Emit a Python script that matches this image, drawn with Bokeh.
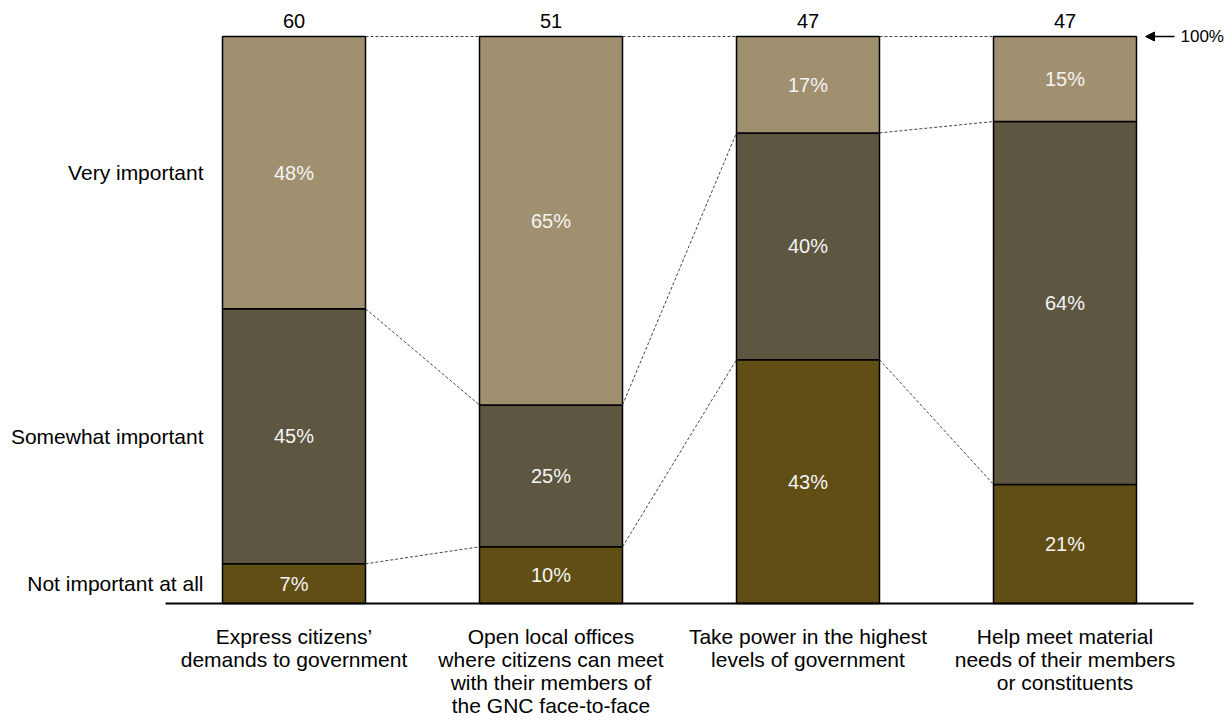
from bokeh.plotting import figure
from bokeh.models import ColumnDataSource, Range1d, Arrow, NormalHead
from bokeh.core.properties import value
from bokeh.embed import file_html
from bokeh.resources import INLINE

# ---- data ----
categories = [
    "Express citizens’\ndemands to government",
    "Open local offices\nwhere citizens can meet\nwith their members of\nthe GNC face-to-face",
    "Take power in the highest\nlevels of government",
    "Help meet material\nneeds of their members\nor constituents",
]
totals = [60, 51, 47, 47]
levels = ["Not important at all", "Somewhat important", "Very important"]
not_important = [7, 10, 43, 21]
somewhat_important = [45, 25, 40, 64]
very_important = [48, 65, 17, 15]
colors = ["#614E14", "#5D5641", "#A09070"]

series = [not_important, somewhat_important, very_important]

# ---- layout ----
W, H = 1231, 725
PX_PER_UNIT = 257.0
FIRST_CENTER = 293.5      # canvas px of first bar centre
ZERO_Y = 603.0            # canvas px of 0 %
PX_PER_PCT = 5.67
BAR_W = 143.0 / PX_PER_UNIT
FONT = value("Liberation Sans")

x_start = -FIRST_CENTER / PX_PER_UNIT
x_end = (W - FIRST_CENTER) / PX_PER_UNIT
y_start = -(H - ZERO_Y) / PX_PER_PCT
y_end = ZERO_Y / PX_PER_PCT

p = figure(width=W, height=H, x_range=Range1d(x_start, x_end), y_range=Range1d(y_start, y_end),
           output_backend="svg", toolbar_location=None, min_border=0)
p.axis.visible = False
p.grid.visible = False
p.outline_line_color = None
p.background_fill_color = "white"
p.border_fill_color = "white"

xs = list(range(len(categories)))

# stacked bars
bottoms = [0] * len(xs)
bounds = []
for vals, col in zip(series, colors):
    tops = [b + v for b, v in zip(bottoms, vals)]
    src = ColumnDataSource(dict(x=xs, bottom=bottoms, top=tops,
                                mid=[(b + t) / 2 for b, t in zip(bottoms, tops)],
                                lab=[f"{v}%" for v in vals]))
    p.vbar(x="x", bottom="bottom", top="top", width=BAR_W, source=src,
           fill_color=col, line_color="black", line_width=1.5)
    p.text(x="x", y="mid", text="lab", source=src, text_color="#F4F4F4",
           text_align="center", text_baseline="middle", text_font=FONT,
           text_font_size="20px")
    bounds.append(tops)
    bottoms = tops

# dashed connectors between bars
cx0, cy0, cx1, cy1 = [], [], [], []
for tops in bounds:
    for i in range(len(xs) - 1):
        cx0.append(xs[i] + BAR_W / 2)
        cy0.append(tops[i])
        cx1.append(xs[i + 1] - BAR_W / 2)
        cy1.append(tops[i + 1])
p.segment(x0=cx0, y0=cy0, x1=cx1, y1=cy1, line_color="#444444", line_width=1,
          line_dash="3 2")

# baseline
p.segment(x0=[-0.5], y0=[0], x1=[len(xs) - 0.5], y1=[0], line_color="black", line_width=2)

# totals above bars
p.text(x=xs, y=[100] * len(xs), text=[str(t) for t in totals], text_color="black",
       text_align="center", text_baseline="middle", y_offset=-16, text_font=FONT,
       text_font_size="20px")

# level labels at left (aligned to first bar segments)
mids0 = []
b = 0
for vals in series:
    mids0.append(b + vals[0] / 2)
    b += vals[0]
p.text(x=[-BAR_W / 2] * len(levels), y=mids0, text=levels, text_color="black",
       text_align="right", text_baseline="middle", x_offset=-19, text_font=FONT,
       text_font_size="21px")

# category labels
p.text(x=xs, y=[0] * len(xs), text=categories, text_color="black",
       text_align="center", text_baseline="top", y_offset=21, text_font=FONT,
       text_font_size="21px", text_line_height=1.0)

# 100% arrow
last = xs[-1] + BAR_W / 2
p.add_layout(Arrow(end=NormalHead(size=9, fill_color="black", line_color="black"),
                   x_start=last + 38 / PX_PER_UNIT, y_start=100,
                   x_end=last + 9 / PX_PER_UNIT, y_end=100,
                   line_color="black", line_width=1.5))
p.text(x=[last + 44 / PX_PER_UNIT], y=[100], text=["100%"], text_color="black",
       text_align="left", text_baseline="middle", text_font=FONT, text_font_size="17px")

open("out.html", "w").write(file_html(p, INLINE))
